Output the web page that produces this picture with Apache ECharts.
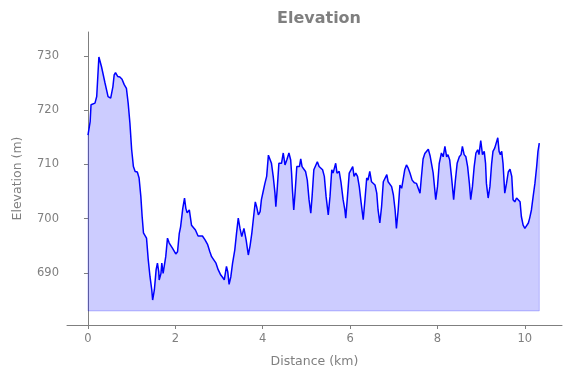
<!DOCTYPE html>
<html>
<head>
<meta charset="utf-8">
<script src="https://cdn.jsdelivr.net/npm/echarts@6/dist/echarts.min.js"></script>
<style>
  html, body { margin: 0; padding: 0; background: #fff; }
  #chart { width: 571px; height: 378px; }
</style>
</head>
<body>
<div id="chart"></div>
<script>
// distance along the track (km)
var distance = [
  0.00, 0.05, 0.07, 0.10, 0.16, 0.20, 0.25, 0.31, 0.39, 0.46, 0.52, 0.57, 0.60, 0.63, 0.68, 0.73, 0.78, 0.83, 0.88, 0.92,
  0.96, 1.00, 1.04, 1.08, 1.13, 1.17, 1.21, 1.24, 1.27, 1.30, 1.34, 1.38, 1.42, 1.46, 1.48, 1.52, 1.56, 1.59, 1.62, 1.63,
  1.67, 1.69, 1.72, 1.75, 1.78, 1.82, 1.86, 1.89, 1.93, 1.97, 2.01, 2.05, 2.09, 2.12, 2.17, 2.21, 2.24, 2.27, 2.32, 2.35,
  2.37, 2.41, 2.46, 2.52, 2.56, 2.62, 2.68, 2.74, 2.79, 2.83, 2.88, 2.93, 2.98, 3.04, 3.08, 3.12, 3.17, 3.20, 3.23, 3.27,
  3.31, 3.36, 3.40, 3.44, 3.48, 3.52, 3.57, 3.62, 3.67, 3.71, 3.75, 3.80, 3.83, 3.86, 3.90, 3.94, 3.97, 4.01, 4.05, 4.09,
  4.13, 4.16, 4.20, 4.24, 4.28, 4.30, 4.33, 4.37, 4.40, 4.43, 4.47, 4.51, 4.55, 4.60, 4.64, 4.66, 4.68, 4.71, 4.74, 4.78,
  4.81, 4.84, 4.87, 4.90, 4.94, 4.98, 5.02, 5.06, 5.10, 5.13, 5.17, 5.21, 5.25, 5.29, 5.33, 5.37, 5.41, 5.45, 5.50, 5.54,
  5.58, 5.61, 5.67, 5.70, 5.75, 5.79, 5.84, 5.88, 5.90, 5.94, 5.98, 6.02, 6.06, 6.09, 6.13, 6.17, 6.21, 6.25, 6.30, 6.34,
  6.38, 6.41, 6.45, 6.49, 6.53, 6.57, 6.61, 6.64, 6.68, 6.72, 6.76, 6.80, 6.84, 6.87, 6.91, 6.95, 6.99, 7.03, 7.06, 7.10,
  7.14, 7.18, 7.22, 7.25, 7.29, 7.33, 7.37, 7.42, 7.47, 7.52, 7.56, 7.60, 7.63, 7.67, 7.71, 7.75, 7.79, 7.83, 7.87, 7.90,
  7.96, 8.00, 8.04, 8.09, 8.13, 8.17, 8.21, 8.24, 8.28, 8.32, 8.37, 8.41, 8.45, 8.50, 8.54, 8.57, 8.61, 8.65, 8.69, 8.73,
  8.76, 8.80, 8.84, 8.88, 8.92, 8.95, 8.99, 9.03, 9.07, 9.10, 9.12, 9.16, 9.20, 9.24, 9.27, 9.31, 9.34, 9.38, 9.41, 9.44,
  9.47, 9.50, 9.54, 9.58, 9.62, 9.66, 9.70, 9.73, 9.77, 9.81, 9.85, 9.89, 9.92, 9.96, 10.00, 10.04, 10.08, 10.11, 10.15, 10.19,
  10.23, 10.27, 10.30, 10.33
]

// elevation (m)
var elevation = [
  715.4, 717.9, 721.0, 720.7, 721.3, 722.5, 729.8, 728.0, 725.0, 722.5, 722.2, 724.3, 726.5, 726.9, 726.2, 726.1, 725.7, 724.7, 724.0, 721.3,
  717.6, 712.7, 709.6, 708.7, 708.6, 707.5, 704.1, 700.4, 697.4, 697.4, 696.4, 692.4, 689.3, 686.9, 685.0, 686.9, 690.6, 691.8, 690.2, 688.7,
  689.9, 691.8, 689.9, 689.6, 693.0, 696.4, 695.5, 695.3, 694.6, 694.4, 693.5, 693.9, 697.3, 698.5, 701.9, 703.8, 701.9, 701.1, 701.6, 701.3,
  698.8, 698.5, 697.9, 696.8, 696.5, 696.8, 696.1, 695.2, 693.9, 693.0, 692.4, 691.8, 690.6, 689.6, 689.2, 688.7, 691.2, 690.2, 687.9, 689.3,
  691.8, 694.2, 697.3, 700.1, 698.2, 696.7, 698.2, 696.1, 693.3, 695.0, 697.3, 701.0, 703.1, 702.2, 700.7, 701.3, 703.5, 705.0, 706.5, 707.8,
  711.7, 711.4, 710.2, 707.8, 704.7, 702.2, 705.3, 710.2, 710.5, 710.2, 712.1, 709.9, 710.8, 712.1, 710.8, 708.4, 705.3, 701.6, 704.7, 709.6,
  709.9, 709.6, 711.0, 709.6, 709.7, 708.7, 707.1, 703.5, 701.0, 704.1, 709.0, 709.3, 710.5, 709.6, 709.7, 709.0, 707.8, 704.1, 700.7, 704.1,
  709.0, 708.4, 710.2, 708.4, 708.7, 706.8, 703.5, 701.6, 700.1, 704.1, 708.4, 708.1, 709.6, 707.8, 708.4, 707.8, 705.9, 703.1, 699.8, 703.5,
  707.5, 707.1, 708.7, 706.8, 707.1, 706.2, 704.7, 701.6, 699.2, 702.2, 706.8, 706.5, 708.1, 706.8, 707.0, 705.9, 704.4, 701.6, 698.2, 701.6,
  706.2, 705.6, 705.3, 709.0, 709.9, 709.3, 708.4, 707.1, 706.6, 706.5, 706.8, 704.7, 707.5, 711.0, 712.0, 711.9, 712.8, 711.6, 711.8, 708.5,
  703.5, 705.9, 710.2, 712.1, 711.4, 713.3, 711.4, 711.8, 710.8, 707.8, 703.5, 707.1, 710.2, 711.4, 711.8, 713.3, 711.8, 711.4, 709.6, 706.5,
  703.5, 705.9, 709.6, 712.1, 712.7, 711.8, 714.4, 711.8, 712.4, 710.2, 706.5, 703.8, 705.9, 710.2, 712.4, 713.0, 712.7, 714.9, 712.4, 711.8,
  712.4, 710.2, 704.7, 706.5, 708.6, 709.1, 707.8, 703.5, 703.1, 703.8, 703.8, 703.1, 700.4, 698.8, 698.2, 698.5, 699.2, 700.1, 701.6, 704.1,
  706.5, 709.6, 712.4, 713.9
]

var xTicks = [0, 2, 4, 6, 8, 10]
var yTicks = [690, 700, 710, 720, 730]

var grey = '#7f7f7f'
var track = distance.map(function (d, i) { return [d, elevation[i]] })
var base = Math.min.apply(null, elevation) - 2
var last = distance.length - 1
// outline of the filled polygon (left edge, bottom, right edge)
var outline = [
  [distance[0], elevation[0]], [distance[0], base],
  [distance[last], base], [distance[last], elevation[last]]
]

var chart = echarts.init(document.getElementById('chart'))
chart.setOption({
  animation: false,
  title: {
    text: 'Elevation',
    left: 314,
    top: 6,
    textAlign: 'center',
    textStyle: { color: grey, fontSize: 16, fontWeight: 'bold', fontFamily: 'DejaVu Sans' }
  },
  grid: { left: 67, right: 9, top: 32, bottom: 53 },
  xAxis: {
    type: 'value',
    min: -0.48,
    max: 10.85,
    name: 'Distance (km)',
    nameLocation: 'middle',
    nameGap: 30,
    nameTextStyle: { color: grey, fontSize: 12.5, fontFamily: 'DejaVu Sans' },
    splitLine: { show: false },
    axisLine: { lineStyle: { color: grey, width: 1 } },
    axisTick: { show: true, length: 4, lineStyle: { color: grey }, customValues: xTicks },
    axisLabel: { color: grey, fontSize: 11.5, fontFamily: 'DejaVu Sans', margin: 8, customValues: xTicks }
  },
  yAxis: {
    type: 'value',
    min: 680.4,
    max: 734.4,
    name: 'Elevation (m)',
    nameLocation: 'middle',
    nameGap: 43,
    nameTextStyle: { color: grey, fontSize: 12.5, fontFamily: 'DejaVu Sans' },
    splitLine: { show: false },
    axisLine: { show: true, lineStyle: { color: grey, width: 1 } },
    axisTick: { show: true, length: 4, lineStyle: { color: grey }, customValues: yTicks },
    axisLabel: { color: grey, fontSize: 11.5, fontFamily: 'DejaVu Sans', margin: 8, customValues: yTicks }
  },
  series: [
    {
      type: 'line',
      data: outline,
      showSymbol: false,
      silent: true,
      lineStyle: { color: 'rgba(0,0,255,0.22)', width: 1 },
      z: 1
    },
    {
      type: 'line',
      data: track,
      showSymbol: false,
      lineStyle: { color: '#0000ff', width: 1.5 },
      areaStyle: { color: 'rgba(0,0,255,0.2)', origin: base, opacity: 1 },
      z: 2
    }
  ]
})
</script>
</body>
</html>
